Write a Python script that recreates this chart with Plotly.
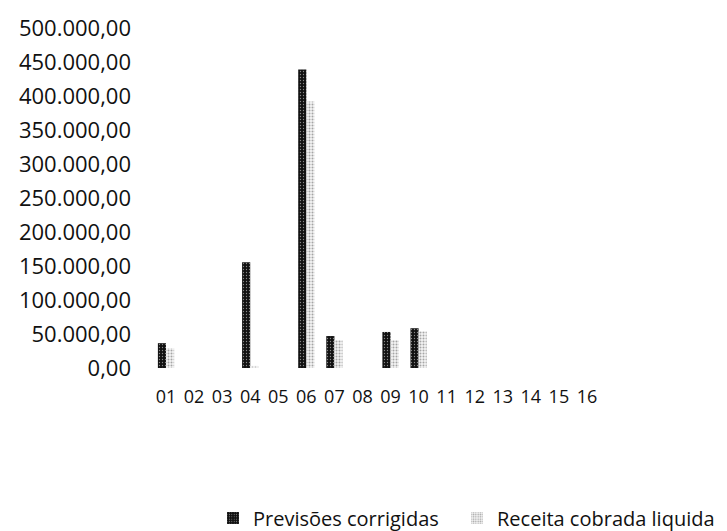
import plotly.graph_objects as go

categories = ["01", "02", "03", "04", "05", "06", "07", "08",
              "09", "10", "11", "12", "13", "14", "15", "16"]
previsoes = [36500, 0, 0, 155500, 0, 439000, 47000, 0,
             53000, 58500, 0, 0, 0, 0, 0, 0]
receita = [29000, 0, 0, 3000, 0, 392000, 41000, 0,
           41000, 54000, 0, 0, 0, 0, 0, 0]
y_ticks = [0, 50000, 100000, 150000, 200000, 250000,
           300000, 350000, 400000, 450000, 500000]

fig = go.Figure()
fig.add_trace(go.Bar(
    x=categories, y=previsoes, name="Previsões corrigidas", legend="legend",
    marker=dict(color="#111111", line=dict(width=0),
                pattern=dict(shape=".", fgcolor="#ffffff", size=3, solidity=0.15)),
))
fig.add_trace(go.Bar(
    x=categories, y=receita, name="Receita cobrada liquida", legend="legend2",
    marker=dict(color="#ffffff", line=dict(width=0),
                pattern=dict(shape=".", fgcolor="#555555", bgcolor="#f4f4f4",
                             size=3, solidity=0.35)),
))

legend_font = dict(family="Open Sans", size=20, color="#111111")
fig.update_layout(
    width=727, height=531,
    margin=dict(l=144, r=134, t=19.5, b=171, autoexpand=False),
    paper_bgcolor="white", plot_bgcolor="white",
    barmode="group", bargap=0.42, bargroupgap=0.0,
    separators=",.",
    showlegend=True,
    legend=dict(xref="container", yref="container", x=205 / 727, xanchor="left",
                y=1 - 510 / 531, yanchor="middle", font=legend_font,
                bgcolor="rgba(0,0,0,0)"),
    legend2=dict(xref="container", yref="container", x=449 / 727, xanchor="left",
                 y=1 - 510 / 531, yanchor="middle", font=legend_font,
                 bgcolor="rgba(0,0,0,0)"),
    xaxis=dict(type="category", showline=False, showgrid=False, zeroline=False,
               ticks="", ticklabelstandoff=16, automargin=False,
               tickfont=dict(family="Open Sans", size=18, color="#111111")),
    yaxis=dict(range=[0, 500000], tickvals=y_ticks, tickformat=",.2f",
               showline=False, showgrid=False, zeroline=False, ticks="",
               ticklabelstandoff=20, automargin=False,
               tickfont=dict(family="Open Sans", size=22, color="#111111")),
)

fig.write_html("out.html")
